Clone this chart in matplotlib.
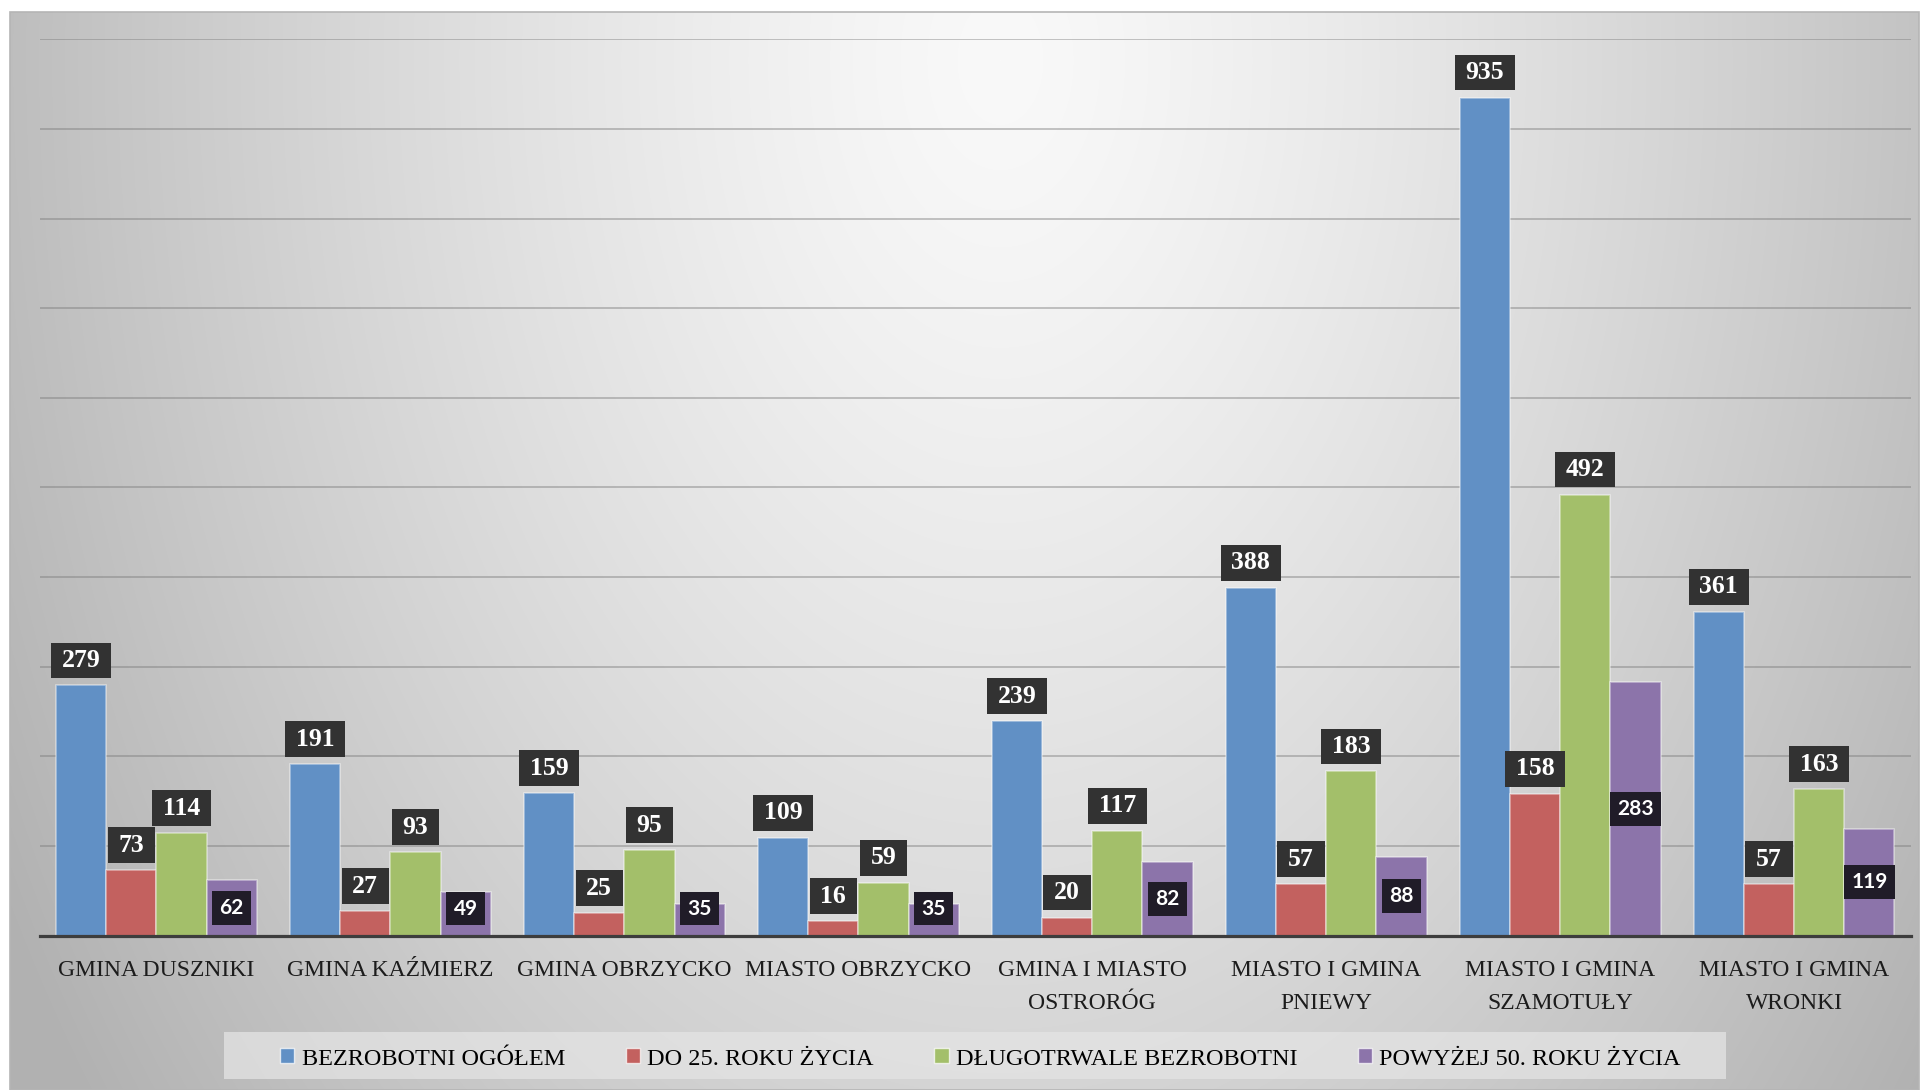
import numpy as np
import matplotlib
matplotlib.use('Agg')
import matplotlib.pyplot as plt
from matplotlib.patches import Rectangle, Patch
from matplotlib.path import Path
from matplotlib.font_manager import FontProperties

categories = ["GMINA DUSZNIKI", "GMINA KAŹMIERZ", "GMINA OBRZYCKO", "MIASTO OBRZYCKO",
              "GMINA I MIASTO\nOSTRORÓG", "MIASTO I GMINA\nPNIEWY",
              "MIASTO I GMINA\nSZAMOTUŁY", "MIASTO I GMINA\nWRONKI"]
series_names = ["BEZROBOTNI OGÓŁEM", "DO 25. ROKU ŻYCIA",
                "DŁUGOTRWALE BEZROBOTNI", "POWYŻEJ 50. ROKU ŻYCIA"]
bezrobotni_ogolem = [279, 191, 159, 109, 239, 388, 935, 361]
do_25_roku = [73, 27, 25, 16, 20, 57, 158, 57]
dlugotrwale = [114, 93, 95, 59, 117, 183, 492, 163]
powyzej_50 = [62, 49, 35, 35, 82, 88, 283, 119]
series_values = [bezrobotni_ogolem, do_25_roku, dlugotrwale, powyzej_50]
colors = ['#6190c5', '#c3615f', '#a3bf6a', '#8c74aa']


def make_box(padx, pady):
    def box(x0, y0, width, height, mutation_size):
        px = padx * mutation_size
        py = pady * mutation_size
        verts = [(x0 - px, y0 - py), (x0 + width + px, y0 - py),
                 (x0 + width + px, y0 + height + py), (x0 - px, y0 + height + py),
                 (x0 - px, y0 - py)]
        return Path(verts, closed=True)
    return box


W, H = 1925, 1090
fig = plt.figure(figsize=(W / 100, H / 100), dpi=100)
fig.patch.set_facecolor('white')

# background gradient frame
bg = fig.add_axes([0, 0, 1, 1], zorder=-10)
bg.set_xlim(0, W)
bg.set_ylim(H, 0)
bg.axis('off')
fx0, fx1, fy0, fy1 = 10, 1919, 12, 1090
yy, xx = np.mgrid[fy0:fy1, fx0:fx1]
r = np.sqrt(((xx - 1000) / 1000.0) ** 2 + ((yy - 60) / 1500.0) ** 2)
val = 249 - 60 * np.clip(r, 0, 1.15) ** 1.3
img = np.dstack([val, val, val]) / 255.0
bg.imshow(img, extent=(fx0, fx1, fy1, fy0), origin='upper', aspect='auto',
          interpolation='bilinear')
bg.add_patch(Rectangle((fx0, fy0), fx1 - fx0, fy1 - fy0, fill=False,
                       ec='#b5b5b5', lw=1.2))
# legend box
bg.add_patch(Rectangle((224, 1032), 1726 - 224, 1078.7 - 1032, fc='#e4e4e4',
                       ec='none', alpha=0.75))

# main axes
left, right, bottom_px, top_px = 39.5, 1911, 935.5, 39.3
ax = fig.add_axes([left / W, 1 - bottom_px / H, (right - left) / W,
                   (bottom_px - top_px) / H])
ax.patch.set_alpha(0)

top_box = make_box(0.42, 0.25)
in_box = make_box(0.36, 0.33)

x = np.arange(len(categories))
width = 0.2147
for i, (vals, c) in enumerate(zip(series_values, colors)):
    off = (i - 1.5) * width
    ax.bar(x + off, vals, width, color=c, edgecolor=(1, 1, 1, 0.45),
           linewidth=1.2, zorder=3)
    for xc, v in zip(x + off, vals):
        if i < 3:
            ax.annotate(str(v), (xc, v), xytext=(0, 25), textcoords='offset pixels',
                        ha='center', va='center', fontfamily='Liberation Serif',
                        fontweight='bold', fontsize=18.5, color='white',
                        bbox=dict(boxstyle=top_box, fc='#323232', ec='none'),
                        zorder=6)
        else:
            ax.annotate(str(v), (xc, max(v / 2.0, 30)), ha='center', va='center',
                        fontfamily='Lato', fontweight='bold', fontsize=15,
                        color='white',
                        bbox=dict(boxstyle=in_box, fc='#201c28', ec='none'),
                        zorder=6)

ax.set_xlim(-0.5, 7.5)
ax.set_ylim(0, 1000)
ax.set_yticks(np.arange(0, 1001, 100))
ax.yaxis.grid(True, color='#7a7a7a', alpha=0.55, lw=1.1)
ax.set_axisbelow(True)
ax.tick_params(axis='y', length=0, labelleft=False)
for s in ['top', 'left', 'right']:
    ax.spines[s].set_visible(False)
ax.spines['bottom'].set_color('#3d3d3d')
ax.spines['bottom'].set_linewidth(2.3)
ax.spines['bottom'].set_zorder(5)

ax.set_xticks(x)
ax.set_xticklabels(categories, fontfamily='Liberation Serif', fontsize=17,
                   color='#1c1c1c', linespacing=1.78)
ax.tick_params(axis='x', length=0, pad=17.5)

handles = [Patch(fc=c, ec=(1, 1, 1, 0.7), lw=1.0) for c in colors]
fig.legend(handles, series_names, loc='center', bbox_to_anchor=(0.5094, 0.0285),
           ncol=4, frameon=False,
           prop=FontProperties(family='Liberation Serif', size=17.5),
           handlelength=0.58, handleheight=0.58, handletextpad=0.3,
           columnspacing=2.5, borderpad=0.3, borderaxespad=0)

fig.savefig('out.png', dpi=100)
